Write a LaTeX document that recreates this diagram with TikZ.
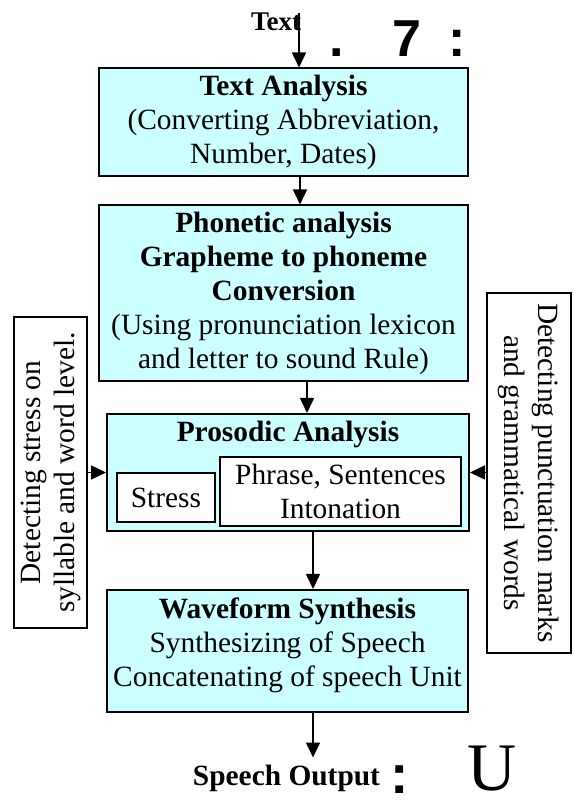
\documentclass[tikz,border=0pt]{standalone}
\usepackage{fontspec}
\setmainfont{Liberation Serif}
\newfontfamily\glyphfont{Liberation Sans}
\usetikzlibrary{arrows.meta}
\definecolor{stagecyan}{HTML}{CCFFFF}
\begin{document}
\begin{tikzpicture}[x=0.5pt, y=0.5pt,
    every node/.style={font=\fontsize{14.7}{17}\selectfont},
    stage/.style={draw, line width=1pt, fill=stagecyan, align=center},
    inbox/.style={draw, line width=1pt, fill=white, align=center, inner sep=0pt},
    side/.style={draw, line width=0.8pt, align=center, inner sep=0pt},
    flow/.style={line width=0.8pt, -{Triangle[length=7.5pt,width=7pt]}},
    junk/.style={inner sep=0pt, anchor=base}]
    \useasboundingbox (0,0) rectangle (573,802);

    \node [stage, minimum width=184.5pt, minimum height=53.5pt] (textan) at (283.5,679.5)
        {\textbf{Text Analysis}\\(Converting Abbreviation,\\Number, Dates)};
    \node [stage, minimum width=184.5pt, minimum height=84.5pt] (phonetic) at (283.5,508.5)
        {\textbf{Phonetic analysis}\\\textbf{Grapheme to phoneme}\\\textbf{Conversion}\\
         (Using pronunciation lexicon\\and letter to sound Rule)};
    \node [stage, minimum width=181pt, minimum height=58.5pt] (prosodic) at (288,329.5) {};
    \node [anchor=base] (prostitle) at (288,360) {\textbf{Prosodic Analysis}};
    \node [inbox, minimum width=49pt, minimum height=24.5pt] (stress) at (166,304.5) {Stress};
    \node [inbox, minimum width=120.5pt, minimum height=34.5pt] (phrase) at (340.5,310.5)
        {Phrase, Sentences\\Intonation};
    \node [stage, minimum width=180.5pt, minimum height=61pt] (waveform) at (287.5,151) {};
    \node [align=center] (wavetext) at (287.5,157)
        {\textbf{Waveform Synthesis}\\Synthesizing of Speech\\Concatenating of speech Unit};

    \node [side, rotate=90, minimum width=155.5pt, minimum height=36.5pt] (stressrule) at (50.5,329.5)
        {Detecting stress on\\syllable and word level.};
    \node [side, rotate=-90, minimum width=180pt, minimum height=42pt] (punct) at (529,329)
        {Detecting punctuation marks\\and grammatical words};

    \node [anchor=base, font=\fontsize{13.5}{16}\selectfont\bfseries] (input) at (276,771) {Text};
    \node [anchor=base, font=\fontsize{14.7}{17}\selectfont\bfseries] (output) at (286.5,17) {Speech Output};
    \coordinate (feed) at (299,789);

    \node [junk, font=\glyphfont\bfseries\fontsize{26}{26}\selectfont] (dotA) at (337,745) {.};
    \node [junk, font=\glyphfont\bfseries\fontsize{26}{26}\selectfont] (seven) at (407,745) {7};
    \node [junk, font=\glyphfont\bfseries\fontsize{26}{26}\selectfont] (colonA) at (457,745) {:};
    \node [junk, font=\glyphfont\bfseries\fontsize{27.5}{28}\selectfont] (colonB) at (400,9) {:};
    \node [junk, font=\fontsize{34}{35}\selectfont] (bigU) at (492.5,11) {U};

    \draw [flow] (feed) -- (feed |- textan.north);
    \draw [flow] ([xshift=8.25pt]textan.south) -- ([xshift=8.25pt]phonetic.north);
    \draw [flow] ([xshift=11.75pt]phonetic.south) -- ([xshift=11.75pt]phonetic.south |- prosodic.north);
    \draw [flow] ([xshift=12.5pt]prosodic.south) -- ([xshift=12.5pt]prosodic.south |- waveform.north);
    \draw [flow] ([xshift=12.75pt]waveform.south) -- ([xshift=12.75pt]waveform.south |- output.north);
    \draw [flow] (stressrule.south |- prosodic.west) -- (prosodic.west);
    \draw [flow] (punct.south |- prosodic.east) -- (prosodic.east);
\end{tikzpicture}
\end{document}
